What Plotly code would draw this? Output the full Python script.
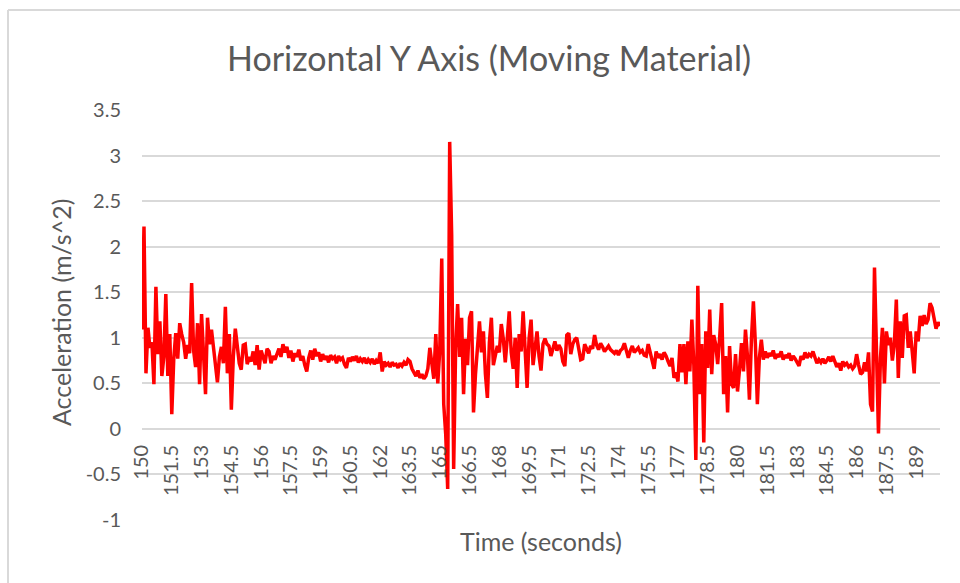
import plotly.graph_objects as go

# Sampling grid of the recording (seconds)
T_START = 150.0
T_STEP = 0.1

# Horizontal Y-axis acceleration (m/s^2), one row per 1.5 s
accel = [
    1.09, 2.22, 0.61, 1.11, 0.89, 0.95, 0.49, 1.56, 0.82, 1.18, 0.58, 0.79, 1.48, 0.58, 1.04,
    0.16, 0.77, 1.05, 0.77, 1.16, 1.04, 0.95, 0.77, 0.92, 0.83, 1.60, 0.86, 0.68, 1.16, 0.49,
    1.26, 0.79, 0.38, 1.22, 0.93, 1.09, 0.89, 0.70, 0.51, 0.79, 0.90, 0.72, 1.34, 0.61, 1.04,
    0.21, 0.79, 1.10, 0.86, 0.72, 0.65, 0.92, 0.93, 0.71, 0.79, 0.74, 0.85, 0.70, 0.92, 0.65,
    0.86, 0.80, 0.72, 0.88, 0.85, 0.72, 0.80, 0.76, 0.82, 0.88, 0.79, 0.93, 0.84, 0.90, 0.78,
    0.86, 0.74, 0.83, 0.79, 0.87, 0.75, 0.80, 0.70, 0.63, 0.78, 0.86, 0.76, 0.88, 0.80, 0.84,
    0.74, 0.82, 0.76, 0.80, 0.73, 0.81, 0.77, 0.79, 0.72, 0.80, 0.76, 0.78, 0.71, 0.67, 0.78,
    0.74, 0.79, 0.75, 0.80, 0.73, 0.77, 0.74, 0.78, 0.72, 0.76, 0.73, 0.77, 0.71, 0.75, 0.72,
    0.84, 0.63, 0.74, 0.70, 0.72, 0.68, 0.73, 0.70, 0.71, 0.67, 0.72, 0.69, 0.73, 0.70, 0.76,
    0.74, 0.66, 0.62, 0.58, 0.64, 0.56, 0.60, 0.55, 0.58, 0.66, 0.89, 0.72, 0.55, 1.04, 0.50,
    0.86, 1.87, 0.27, -0.06, -0.66, 3.15, 2.13, -0.44, 0.89, 1.37, 0.79, 1.22, 0.38, 0.99, 0.70,
    1.22, 1.29, 0.18, 0.60, 0.87, 1.18, 0.84, 1.07, 0.60, 0.34, 0.95, 1.22, 0.70, 0.81, 0.91,
    0.84, 1.15, 0.99, 0.73, 0.99, 1.29, 0.84, 0.66, 1.00, 0.45, 1.04, 0.85, 1.29, 0.84, 0.45,
    0.99, 1.20, 0.70, 0.91, 1.07, 0.80, 0.64, 0.93, 0.99, 0.93, 0.91, 0.80, 0.90, 0.96, 0.86,
    0.92, 0.88, 0.74, 0.69, 1.03, 1.05, 0.82, 0.93, 0.98, 1.00, 0.86, 0.76, 0.77, 0.93, 0.88,
    0.83, 0.91, 0.88, 1.03, 0.92, 0.87, 0.94, 0.90, 0.85, 0.88, 0.91, 0.87, 0.85, 0.83, 0.86,
    0.81, 0.86, 0.88, 0.94, 0.85, 0.78, 0.86, 0.91, 0.84, 0.87, 0.89, 0.84, 0.86, 0.81, 0.80,
    0.93, 0.84, 0.74, 0.66, 0.85, 0.78, 0.82, 0.76, 0.84, 0.80, 0.74, 0.69, 0.78, 0.56, 0.62,
    0.52, 0.93, 0.62, 0.93, 0.49, 0.96, 0.63, 1.20, 0.70, -0.34, 1.57, 0.38, 0.93, -0.15, 1.07,
    0.67, 1.31, 0.60, 1.03, 0.93, 0.71, 1.00, 1.38, 0.38, 0.80, 0.18, 0.91, 0.49, 0.45, 0.82,
    0.41, 0.65, 0.94, 0.63, 1.09, 0.80, 0.32, 0.98, 1.40, 0.93, 0.27, 0.78, 0.98, 0.76, 0.85,
    0.78, 0.83, 0.80, 0.86, 0.77, 0.82, 0.79, 0.85, 0.76, 0.81, 0.78, 0.83, 0.75, 0.80, 0.77,
    0.72, 0.69, 0.80, 0.76, 0.84, 0.78, 0.82, 0.80, 0.85, 0.78, 0.72, 0.76, 0.73, 0.77, 0.72,
    0.75, 0.79, 0.74, 0.80, 0.74, 0.68, 0.72, 0.64, 0.74, 0.70, 0.72, 0.68, 0.70, 0.66, 0.69,
    0.82, 0.70, 0.60, 0.62, 0.73, 0.63, 0.84, 0.27, 0.19, 1.77, 0.85, -0.05, 0.78, 1.11, 0.50,
    1.07, 0.92, 1.00, 0.75, 0.93, 1.42, 0.56, 1.18, 0.78, 1.24, 1.25, 0.89, 1.07, 0.85, 0.61,
    1.07, 0.96, 1.24, 1.13, 1.25, 1.15, 1.20, 1.38, 1.33, 1.22, 1.10, 1.17, 1.13,
]

time_s = [round(T_START + T_STEP * i, 1) for i in range(len(accel))]

# Category labels shown every 1.5 s
x_tick_labels = ["150", "151.5", "153", "154.5", "156", "157.5", "159", "160.5", "162",
                 "163.5", "165", "166.5", "168", "169.5", "171", "172.5", "174", "175.5",
                 "177", "178.5", "180", "181.5", "183", "184.5", "186", "187.5", "189"]
y_tick_labels = ["-1", "-0.5", "0", "0.5", "1", "1.5", "2", "2.5", "3", "3.5"]

Y_MIN, Y_MAX = -1.0, 3.5
FONT = "Lato, 'Open Sans', sans-serif"
TEXT = "#595959"
GRID = "#d9d9d9"

fig = go.Figure()
fig.add_trace(go.Scatter(
    x=time_s, y=accel, mode="lines",
    line=dict(color="#ff0000", width=3.5),
    hoverinfo="x+y", showlegend=False,
))

# Horizontal axis crosses at zero, so it sits inside the plot
zero_pos = (0 - Y_MIN) / (Y_MAX - Y_MIN)

fig.update_layout(
    width=960, height=583,
    margin=dict(l=142, r=20, t=110, b=63),
    paper_bgcolor="white", plot_bgcolor="white",
    font=dict(family=FONT, color=TEXT),
    xaxis=dict(
        range=[time_s[0], time_s[-1]],
        tickmode="array",
        tickvals=[float(s) for s in x_tick_labels],
        ticktext=x_tick_labels,
        tickangle=-90,
        tickfont=dict(size=20, color=TEXT, family=FONT),
        showgrid=False, zeroline=False, showline=False,
        ticks="", ticklabelstandoff=11,
        anchor="free", position=zero_pos,
    ),
    yaxis=dict(
        range=[Y_MIN, Y_MAX],
        tickmode="array",
        tickvals=[float(s) for s in y_tick_labels],
        ticktext=y_tick_labels,
        tickfont=dict(size=20, color=TEXT, family=FONT),
        showgrid=True, gridcolor=GRID, gridwidth=1.5,
        zeroline=False, showline=False, ticks="",
        ticklabelstandoff=20,
    ),
    annotations=[
        dict(text="Horizontal Y Axis (Moving Material)", xref="paper", yref="paper",
             x=(489 - 142) / 798, y=(520 - 57) / 410, showarrow=False,
             xanchor="center", yanchor="middle",
             font=dict(size=34, color=TEXT, family=FONT)),
        dict(text="Acceleration (m/s^2)", xref="paper", yref="paper",
             x=(61 - 142) / 798, y=(520 - 313) / 410, showarrow=False,
             textangle=-90, xanchor="center", yanchor="middle",
             font=dict(size=25, color=TEXT, family=FONT)),
        dict(text="Time (seconds)", xref="paper", yref="paper",
             x=(541 - 142) / 798, y=(520 - 541) / 410, showarrow=False,
             xanchor="center", yanchor="middle",
             font=dict(size=25, color=TEXT, family=FONT)),
    ],
    shapes=[
        # chart-area border (left and top edges)
        dict(type="line", xref="paper", yref="paper",
             x0=(8 - 142) / 798, x1=(8 - 142) / 798,
             y0=(520 - 10) / 410, y1=(520 - 600) / 410,
             line=dict(color=GRID, width=2)),
        dict(type="line", xref="paper", yref="paper",
             x0=(8 - 142) / 798, x1=(970 - 142) / 798,
             y0=(520 - 10) / 410, y1=(520 - 10) / 410,
             line=dict(color=GRID, width=2)),
    ],
)

fig.write_html("out.html")
